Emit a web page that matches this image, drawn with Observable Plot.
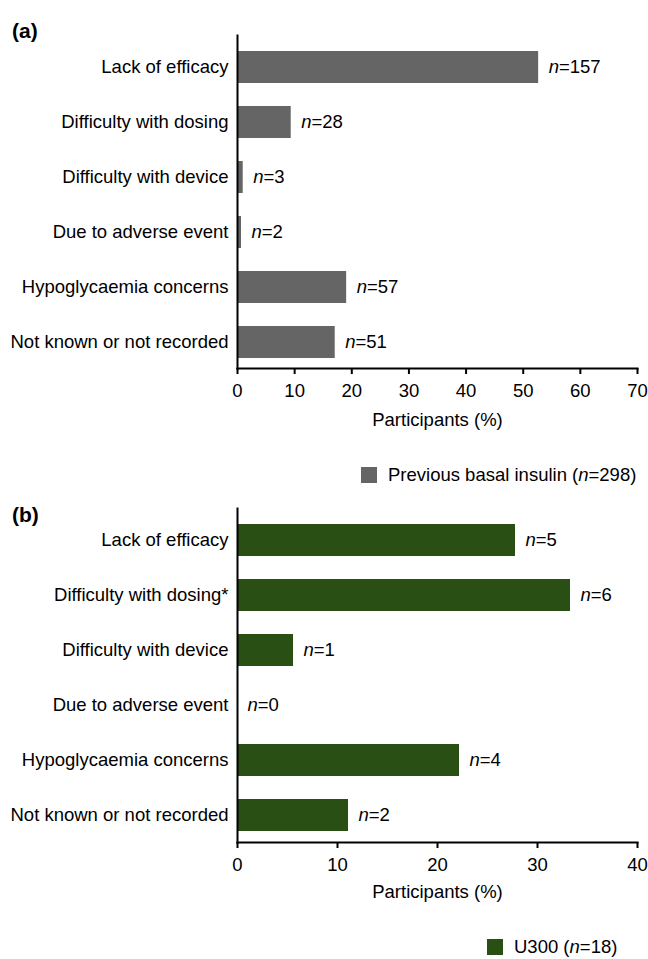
<!DOCTYPE html>
<html><head><meta charset="utf-8">
<script src="https://cdn.jsdelivr.net/npm/d3@7"></script>
<script src="https://cdn.jsdelivr.net/npm/@observablehq/plot@0.6"></script>
<style>
body{margin:0;background:#fff;font-family:"Liberation Sans",Arial,sans-serif;color:#000}
#wrap{position:relative;width:648px;height:959px;overflow:hidden}
.abs{position:absolute}
.panel{font-weight:bold;font-size:21px;line-height:24px}
.legend{font-size:18.5px;line-height:20px;height:20px;display:flex;align-items:center;white-space:nowrap}
.sw{display:inline-block;width:16px;height:16px;margin-right:11px}
</style></head><body><div id="wrap"></div>
<script>
const categoriesA = ["Lack of efficacy","Difficulty with dosing","Difficulty with device","Due to adverse event","Hypoglycaemia concerns","Not known or not recorded"];
const percentA = [52.7, 9.4, 1.0, 0.7, 19.1, 17.1];
const countsA = [157, 28, 3, 2, 57, 51];
const ticksA = [0, 10, 20, 30, 40, 50, 60, 70];

const categoriesB = ["Lack of efficacy","Difficulty with dosing*","Difficulty with device","Due to adverse event","Hypoglycaemia concerns","Not known or not recorded"];
const percentB = [27.8, 33.3, 5.6, 0, 22.2, 11.1];
const countsB = [5, 6, 1, 0, 4, 2];
const ticksB = [0, 10, 20, 30, 40];

const wrap = document.getElementById("wrap");
const FONT = '"Liberation Sans", Arial, sans-serif';
const FS = 18.5;

function panel(cats, pct, counts, ticks, color, opts) {
  const data = cats.map((c, i) => ({cat: c, pct: pct[i], n: counts[i]}));
  const svg = Plot.plot({
    width: 648, height: opts.height,
    marginTop: opts.marginTop, marginBottom: opts.marginBottom,
    marginLeft: 237, marginRight: 11,
    style: {fontFamily: FONT, fontSize: FS + "px", color: "#000", background: "transparent", overflow: "visible"},
    x: {domain: [ticks[0], ticks[ticks.length - 1]]},
    y: {domain: cats, paddingInner: 0.418, paddingOuter: 0.236, align: 0.6},
    marks: [
      Plot.barX(data, {x: "pct", y: "cat", fill: color}),
      Plot.frame({anchor: "left", strokeWidth: 2, stroke: "#000"}),
      Plot.frame({anchor: "bottom", strokeWidth: 2, stroke: "#000"}),
      Plot.axisX(ticks, {tickSize: 6, tickPadding: 9, strokeWidth: 2, label: null, fontSize: FS, stroke: "#000", fill: "#000"}),
      Plot.axisY({tickSize: 0, tickPadding: 9, label: null, fontSize: FS, fill: "#000"}),
      Plot.text(data, {x: "pct", y: "cat", text: d => "n=" + d.n, textAnchor: "start", dx: 10, fontSize: FS, fill: "#000"}),
      Plot.text(["Participants (%)"], {frameAnchor: "bottom", dy: opts.titleDy, fontSize: FS, fill: "#000"})
    ]
  });
  svg.querySelectorAll("text").forEach(t => {
    const m = /^n=(\d+)$/.exec(t.textContent);
    if (m) {
      t.textContent = "";
      const ts = document.createElementNS("http://www.w3.org/2000/svg", "tspan");
      ts.setAttribute("font-style", "italic");
      ts.textContent = "n";
      t.appendChild(ts);
      t.appendChild(document.createTextNode("=" + m[1]));
    }
  });
  svg.classList.add("abs");
  svg.style.left = "0px";
  svg.style.top = opts.top + "px";
  wrap.appendChild(svg);
}

panel(categoriesA, percentA, countsA, ticksA, "#656565", {top: 0, height: 450, marginTop: 35, marginBottom: 82, titleDy: 57});
panel(categoriesB, percentB, countsB, ticksB, "#2a4f15", {top: 490, height: 430, marginTop: 18, marginBottom: 78, titleDy: 55});

function label(txt, left, top) {
  const d = document.createElement("div");
  d.className = "abs panel";
  d.style.left = left + "px"; d.style.top = top + "px";
  d.textContent = txt;
  wrap.appendChild(d);
}
label("(a)", 12, 19);
label("(b)", 12, 503);

function legend(color, name, n, left, top) {
  const d = document.createElement("div");
  d.className = "abs legend";
  d.style.left = left + "px"; d.style.top = top + "px";
  d.innerHTML = `<span class="sw" style="background:${color}"></span><span>${name} (<i>n</i>=${n})</span>`;
  wrap.appendChild(d);
}
legend("#656565", "Previous basal insulin", 298, 361, 465);
legend("#2a4f15", "U300", 18, 487, 937);
</script>
</body></html>
